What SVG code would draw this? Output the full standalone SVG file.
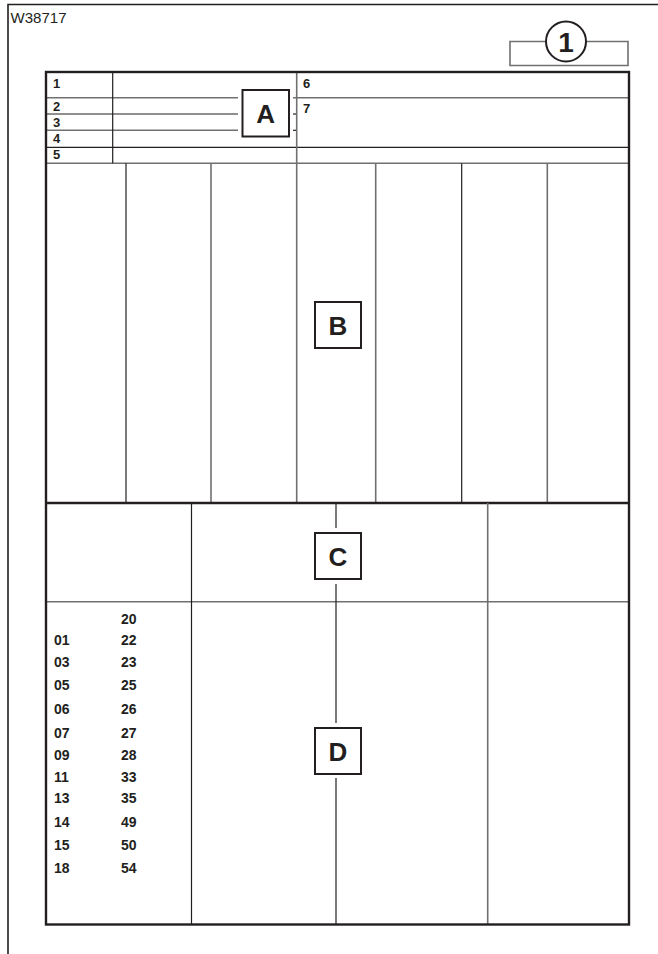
<svg xmlns="http://www.w3.org/2000/svg" width="658" height="954" viewBox="0 0 658 954">
<style>
.dk{stroke:#231f20;stroke-width:1.2;fill:none}
.gy{stroke:#707070;stroke-width:1.6;fill:none}
.bd{stroke:#231f20;stroke-width:2.4;fill:none}
.bx{stroke:#231f20;stroke-width:2;fill:#fff}
.lt{font-family:"Liberation Sans",Arial,sans-serif;font-weight:bold;font-size:26px;fill:#231f20;text-anchor:middle}
.hn{font-family:"Liberation Sans",Arial,sans-serif;font-weight:bold;font-size:13px;fill:#231f20}
.dn{font-family:"Liberation Sans",Arial,sans-serif;font-weight:bold;font-size:14px;fill:#231f20}
</style>
<rect width="658" height="954" fill="#fff"/>
<g id="frame">
<path d="M8 954 V4.5 H658" stroke="#231f20" stroke-width="1.6" fill="none"/>
<text x="10.5" y="23" font-family="Liberation Sans,Arial,sans-serif" font-size="14.5" fill="#231f20" textLength="56" lengthAdjust="spacingAndGlyphs">W38717</text>
</g>
<g id="badge-1">
<path class="gy" d="M546 41.5 H510 V65.5 H628 V41.5 H586"/>
<circle cx="566" cy="41.5" r="20" fill="#fff" stroke="#231f20" stroke-width="2"/>
<text x="566" y="51.5" font-family="Liberation Sans,Arial,sans-serif" font-weight="bold" font-size="28" fill="#231f20" text-anchor="middle">1</text>
</g>
<g id="connectors">
<line class="gy" x1="46" y1="97.7" x2="238" y2="97.7"/>
<line class="gy" x1="293" y1="97.7" x2="629" y2="97.7"/>
<line class="dk" x1="46" y1="114" x2="238" y2="114"/>
<line class="dk" x1="293" y1="114" x2="297" y2="114"/>
<line class="gy" x1="46" y1="130.3" x2="238" y2="130.3"/>
<line class="dk" x1="293" y1="130.3" x2="297" y2="130.3"/>
<line class="dk" x1="46" y1="147.3" x2="629" y2="147.3"/>
<line class="gy" x1="46" y1="163.3" x2="629" y2="163.3"/>
<line class="dk" x1="112.7" y1="72" x2="112.7" y2="163.3"/>
<line class="gy" x1="296.7" y1="72" x2="296.7" y2="163.3"/>
<line class="dk" x1="126" y1="163.3" x2="126" y2="503"/>
<line class="gy" x1="211" y1="163.3" x2="211" y2="503"/>
<line class="gy" x1="296.7" y1="163.3" x2="296.7" y2="503"/>
<line class="gy" x1="375.7" y1="163.3" x2="375.7" y2="503"/>
<line class="dk" x1="461.7" y1="163.3" x2="461.7" y2="503"/>
<line class="gy" x1="547.3" y1="163.3" x2="547.3" y2="503"/>
<line class="bd" x1="46" y1="503" x2="629" y2="503"/>
<line class="gy" x1="46" y1="601.7" x2="629" y2="601.7"/>
<line class="dk" x1="191.5" y1="503" x2="191.5" y2="924.5"/>
<line class="dk" x1="336" y1="503" x2="336" y2="528"/>
<line class="dk" x1="336" y1="584" x2="336" y2="723"/>
<line class="dk" x1="336" y1="778" x2="336" y2="924.5"/>
<line class="gy" x1="487.7" y1="503" x2="487.7" y2="924.5"/>
<rect class="bd" x="46" y="72" width="583" height="852.5"/>
</g>
<g id="header-labels">
<text class="hn" x="53" y="88.3">1</text>
<text class="hn" x="53" y="110.7">2</text>
<text class="hn" x="53" y="126.7">3</text>
<text class="hn" x="53" y="143.3">4</text>
<text class="hn" x="53" y="159.3">5</text>
<text class="hn" x="303" y="88.3">6</text>
<text class="hn" x="303" y="113">7</text>
</g>
<g id="box-A">
<rect class="bx" x="242.5" y="90" width="46.5" height="46.5"/>
<text class="lt" x="265.7" y="122.5">A</text>
</g>
<g id="box-B">
<rect class="bx" x="315" y="302" width="46" height="46"/>
<text class="lt" x="338" y="334.5">B</text>
</g>
<g id="box-C">
<rect class="bx" x="315" y="533" width="46" height="46"/>
<text class="lt" x="338" y="565.5">C</text>
</g>
<g id="box-D">
<rect class="bx" x="315" y="728" width="46" height="46"/>
<text class="lt" x="338" y="760.5">D</text>
</g>
<g id="codes">
<text class="dn" x="121" y="623.7">20</text>
<text class="dn" x="54" y="645">01</text><text class="dn" x="121" y="645">22</text>
<text class="dn" x="54" y="666.7">03</text><text class="dn" x="121" y="666.7">23</text>
<text class="dn" x="54" y="690">05</text><text class="dn" x="121" y="690">25</text>
<text class="dn" x="54" y="713.7">06</text><text class="dn" x="121" y="713.7">26</text>
<text class="dn" x="54" y="738">07</text><text class="dn" x="121" y="738">27</text>
<text class="dn" x="54" y="760">09</text><text class="dn" x="121" y="760">28</text>
<text class="dn" x="54" y="781.7">11</text><text class="dn" x="121" y="781.7">33</text>
<text class="dn" x="54" y="803">13</text><text class="dn" x="121" y="803">35</text>
<text class="dn" x="54" y="826.7">14</text><text class="dn" x="121" y="826.7">49</text>
<text class="dn" x="54" y="850">15</text><text class="dn" x="121" y="850">50</text>
<text class="dn" x="54" y="873">18</text><text class="dn" x="121" y="873">54</text>
</g>
</svg>
